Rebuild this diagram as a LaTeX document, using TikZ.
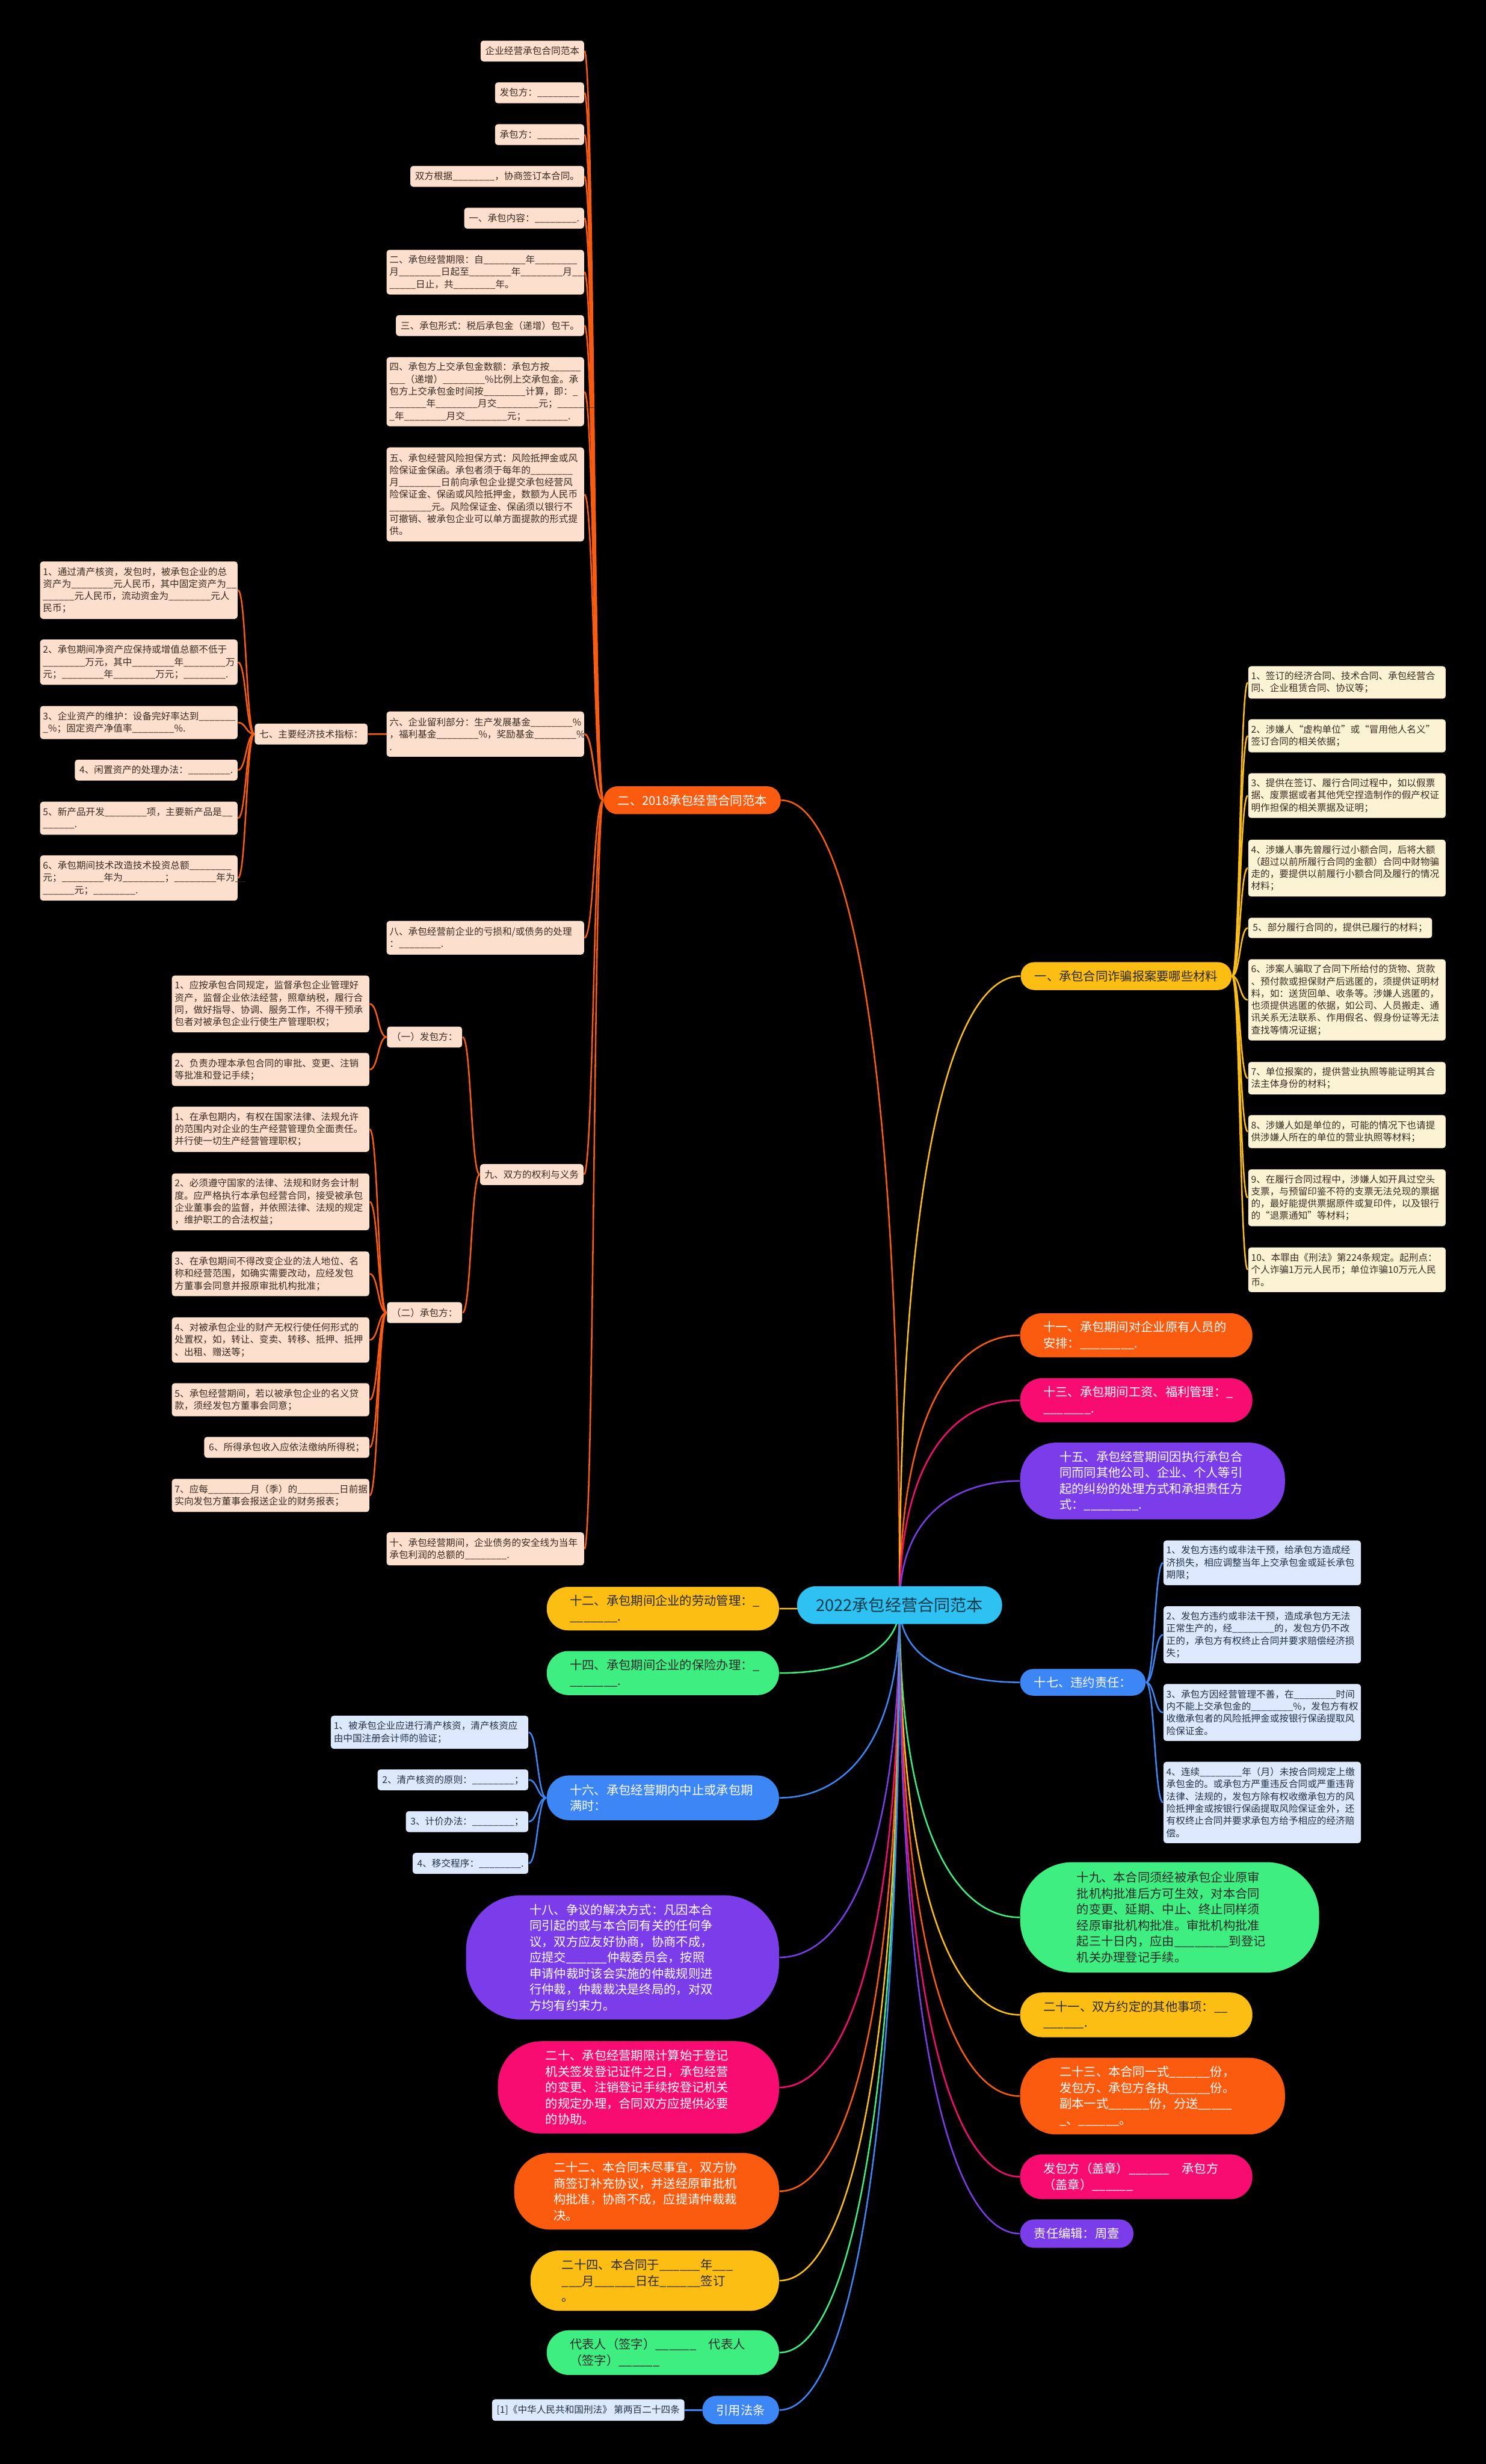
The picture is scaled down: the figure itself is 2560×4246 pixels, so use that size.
\documentclass[tikz,border=0pt]{standalone}
\usepackage{fontspec}
\newfontfamily\zhfont{Noto Sans CJK SC}
\usetikzlibrary{calc}
\pgfdeclarelayer{bg}
\pgfdeclarelayer{edges}
\pgfsetlayers{bg,edges,main}
\definecolor{oC}{HTML}{FA5B0F}
\definecolor{yC}{HTML}{FDBE14}
\definecolor{pC}{HTML}{F80C72}
\definecolor{vC}{HTML}{7B3CE9}
\definecolor{bC}{HTML}{3D86F5}
\definecolor{gC}{HTML}{3FEE81}
\definecolor{rootC}{HTML}{2EC2F2}
\definecolor{peach}{HTML}{FCDFCC}
\definecolor{cream}{HTML}{FCF3D4}
\definecolor{lblue}{HTML}{DCE9FC}
\definecolor{ltext}{HTML}{3B2B22}
\definecolor{btext}{HTML}{22304A}
\definecolor{dtext}{HTML}{2A2A2A}
\definecolor{rtext}{HTML}{163A4A}
\newcommand\fLeaf{\zhfont\fontsize{4.61}{5.98}\selectfont}
\newcommand\fMain{\zhfont\fontsize{5.98}{7.82}\selectfont}
\newcommand\fRoot{\zhfont\fontsize{8}{9.6}\selectfont}
\tikzset{
 lf/.style={rounded corners=0.05cm, inner xsep=0.08cm, inner ysep=0.02cm, font=\fLeaf, text=ltext, align=left},
 wl/.style={text width=3.3cm, inner xsep=0.05cm},
 L/.style={lf,anchor=east},
 R/.style={lf,anchor=west},
 mn/.style={font=\fMain, align=left, inner xsep=0cm, inner ysep=0cm, text width=3.2cm},
 sn/.style={font=\fMain, inner xsep=0.24cm, inner ysep=0cm},
 ln/.style={line width=0.75pt},
 spine/.style={to path={let \p1=(\tikztostart),\p2=(\tikztotarget),\n1={0.5*(\x1+\x2)} in .. controls (\n1,\y1) and (\n1,\y2) .. (\tikztotarget)}},
 rootc/.style={to path={let \p1=(\tikztostart),\p2=(\tikztotarget),\n1={\y1+0.75*(\y2-\y1)},\n2={\x2+0.5*(\x1-\x2)} in .. controls (\x1,\n1) and (\n2,\y2) .. (\tikztotarget)}},
}
\begin{document}
\catcode`\_=12
\begin{tikzpicture}[x=0.01cm,y=-0.01cm]
\useasboundingbox (0,0) rectangle (2560,4246);
\begin{pgfonlayer}{bg}
\fill[black] (0,0) rectangle (2560,4246);
\end{pgfonlayer}

% root
\node[fill=rootC, rounded corners=0.32cm, minimum width=3.53cm, minimum height=0.65cm, font=\fRoot, text=rtext, inner sep=0cm] (root) at (1550,2766) {2022承包经营合同范本};

% ===== branch 二 (orange, top-left)
\node[sn, fill=oC, text=white, anchor=east, minimum height=0.48cm, rounded corners=0.235cm] (b2) at (1346,1379) {二、2018承包经营合同范本};
\node[L, fill=peach, minimum height=0.36cm] (a1) at (1007,88) {企业经营承包合同范本};
\node[L, fill=peach, minimum height=0.36cm] (a2) at (1007,160) {发包方：________};
\node[L, fill=peach, minimum height=0.36cm] (a3) at (1007,232) {承包方：________};
\node[L, fill=peach, minimum height=0.36cm] (a4) at (1007,304) {双方根据________，协商签订本合同。};
\node[L, fill=peach, minimum height=0.36cm] (a5) at (1007,376) {一、承包内容：________.};
\node[L, wl, fill=peach, minimum height=0.77cm] (a6) at (1007,469) {二、承包经营期限：自________年________\\月________日起至________年________月___\\_____日止，共________年。};
\node[L, fill=peach, minimum height=0.36cm] (a7) at (1007,561) {三、承包形式：税后承包金（递增）包干。};
\node[L, wl, fill=peach, minimum height=1.19cm] (a8) at (1007,675) {四、承包方上交承包金数额：承包方按______\\___（递增）________\%比例上交承包金。承\\包方上交承包金时间按________计算，即：_\\_______年________月交________元；_______\\_年________月交________元；________.};
\node[L, wl, fill=peach, minimum height=1.62cm] (a9) at (1007,852) {五、承包经营风险担保方式：风险抵押金或风\\险保证金保函。承包者须于每年的________\\月________日前向承包企业提交承包经营风\\险保证金、保函或风险抵押金，数额为人民币\\________元。风险保证金、保函须以银行不\\可撤销、被承包企业可以单方面提款的形式提\\供。};
\node[L, wl, fill=peach, minimum height=0.78cm] (a10) at (1007,1265) {六、企业留利部分：生产发展基金________\%\\，福利基金________\%，奖励基金________\%\\.};
\node[L, fill=peach, minimum height=0.36cm] (a11) at (634,1265) {七、主要经济技术指标：};
\node[L, wl, fill=peach, minimum height=0.58cm] (a12) at (1007,1616) {八、承包经营前企业的亏损和/或债务的处理\\：________.};
\node[L, fill=peach, minimum height=0.36cm] (a13) at (1006,2024) {九、双方的权利与义务};
\node[L, wl, fill=peach, minimum height=0.57cm] (a14) at (1007,2669) {十、承包经营期间，企业债务的安全线为当年\\承包利润的总额的________.};

% 七 children
\node[L, wl, fill=peach, minimum height=0.99cm] (k1) at (410,1017) {1、通过清产核资，发包时，被承包企业的总\\资产为________元人民币，其中固定资产为__\\______元人民币，流动资金为________元人\\民币；};
\node[L, wl, fill=peach, minimum height=0.78cm] (k2) at (410,1141) {2、承包期间净资产应保持或增值总额不低于\\________万元，其中________年________万\\元；________年________万元；________.};
\node[L, wl, fill=peach, minimum height=0.57cm] (k3) at (410,1245) {3、企业资产的维护：设备完好率达到_______\\_\%；固定资产净值率________\%.};
\node[L, fill=peach, minimum height=0.36cm] (k4) at (410,1327) {4、闲置资产的处理办法：________.};
\node[L, wl, fill=peach, minimum height=0.57cm] (k5) at (410,1410) {5、新产品开发________项，主要新产品是__\\______.};
\node[L, wl, fill=peach, minimum height=0.78cm] (k6) at (410,1513) {6、承包期间技术改造技术投资总额________\\元；________年为________；________年为__\\______元；________.};

% 九 children
\node[L, fill=peach, minimum height=0.36cm] (f0) at (797,1787) {（一）发包方：};
\node[L, wl, fill=peach, minimum height=0.98cm] (f1) at (637,1730) {1、应按承包合同规定，监督承包企业管理好\\资产，监督企业依法经营，照章纳税，履行合\\同，做好指导、协调、服务工作，不得干预承\\包者对被承包企业行使生产管理职权；};
\node[L, wl, fill=peach, minimum height=0.57cm] (f2) at (637,1843) {2、负责办理本承包合同的审批、变更、注销\\等批准和登记手续；};
\node[L, fill=peach, minimum height=0.36cm] (g0) at (797,2262) {（二）承包方：};
\node[L, wl, fill=peach, minimum height=0.78cm] (g1) at (637,1946) {1、在承包期内，有权在国家法律、法规允许\\的范围内对企业的生产经营管理负全面责任。\\并行使一切生产经营管理职权；};
\node[L, wl, fill=peach, minimum height=0.98cm] (g2) at (637,2071) {2、必须遵守国家的法律、法规和财务会计制\\度。应严格执行本承包经营合同，接受被承包\\企业董事会的监督，并依照法律、法规的规定\\，维护职工的合法权益；};
\node[L, wl, fill=peach, minimum height=0.77cm] (g3) at (637,2195) {3、在承包期间不得改变企业的法人地位、名\\称和经营范围，如确实需要改动，应经发包\\方董事会同意并报原审批机构批准；};
\node[L, wl, fill=peach, minimum height=0.78cm] (g4) at (637,2309) {4、对被承包企业的财产无权行使任何形式的\\处置权，如，转让、变卖、转移、抵押、抵押\\、出租、赠送等；};
\node[L, wl, fill=peach, minimum height=0.57cm] (g5) at (637,2412) {5、承包经营期间，若以被承包企业的名义贷\\款，须经发包方董事会同意；};
\node[L, fill=peach, minimum height=0.36cm] (g6) at (637,2494) {6、所得承包收入应依法缴纳所得税；};
\node[L, wl, fill=peach, minimum height=0.57cm] (g7) at (637,2577) {7、应每________月（季）的________日前据\\实向发包方董事会报送企业的财务报表；};

% ===== branch 一 (yellow, right)
\node[sn, fill=yC, text=dtext, anchor=west, minimum height=0.48cm, rounded corners=0.235cm] (y1) at (1758,1682) {一、承包合同诈骗报案要哪些材料};
\node[R, wl, fill=cream, minimum height=0.56cm] (r1) at (2150,1176) {1、签订的经济合同、技术合同、承包经营合\\同、企业租赁合同、协议等；};
\node[R, wl, fill=cream, minimum height=0.57cm] (r2) at (2150,1268) {2、涉嫌人“虚构单位”或“冒用他人名义”\\签订合同的相关依据；};
\node[R, wl, fill=cream, minimum height=0.77cm] (r3) at (2150,1371) {3、提供在签订、履行合同过程中，如以假票\\据、废票据或者其他凭空捏造制作的假产权证\\明作担保的相关票据及证明；};
\node[R, wl, fill=cream, minimum height=0.98cm] (r4) at (2150,1496) {4、涉嫌人事先曾履行过小额合同，后将大额\\（超过以前所履行合同的金额）合同中财物骗\\走的，要提供以前履行小额合同及履行的情况\\材料；};
\node[R, fill=cream, minimum height=0.35cm] (r5) at (2150,1599) {5、部分履行合同的，提供已履行的材料；};
\node[R, wl, fill=cream, minimum height=1.40cm] (r6) at (2150,1723) {6、涉案人骗取了合同下所给付的货物、货款\\、预付款或担保财产后逃匿的，须提供证明材\\料，如：送货回单、收条等。涉嫌人逃匿的，\\也须提供逃匿的依据，如公司、人员搬走、通\\讯关系无法联系、作用假名、假身份证等无法\\查找等情况证据；};
\node[R, wl, fill=cream, minimum height=0.56cm] (r7) at (2150,1858) {7、单位报案的，提供营业执照等能证明其合\\法主体身份的材料；};
\node[R, wl, fill=cream, minimum height=0.57cm] (r8) at (2150,1950) {8、涉嫌人如是单位的，可能的情况下也请提\\供涉嫌人所在的单位的营业执照等材料；};
\node[R, wl, fill=cream, minimum height=0.98cm] (r9) at (2150,2064) {9、在履行合同过程中，涉嫌人如开具过空头\\支票，与预留印鉴不符的支票无法兑现的票据\\的，最好能提供票据原件或复印件，以及银行\\的“退票通知”等材料；};
\node[R, wl, fill=cream, minimum height=0.77cm] (r10) at (2150,2188) {10、本罪由《刑法》第224条规定。起刑点：\\个人诈骗1万元人民币；单位诈骗10万元人民\\币。};

% ===== right main branches
\node[mn, fill=oC, text=white, anchor=west, minimum width=4.0cm, minimum height=0.76cm, rounded corners=0.375cm] (m11) at (1757,2301) {十一、承包期间对企业原有人员的\\安排：________.};
\node[mn, fill=pC, text=white, anchor=west, minimum width=4.0cm, minimum height=0.76cm, rounded corners=0.375cm] (m13) at (1757,2413) {十三、承包期间工资、福利管理：_\\_______.};
\node[mn, fill=vC, text=white, anchor=west, minimum width=4.56cm, minimum height=1.32cm, rounded corners=0.62cm] (m15) at (1757,2552) {十五、承包经营期间因执行承包合\\同而同其他公司、企业、个人等引\\起的纠纷的处理方式和承担责任方\\式：________.};
\node[sn, fill=bC, text=white, anchor=west, minimum height=0.46cm, rounded corners=0.225cm] (m17) at (1757,2899) {十七、违约责任：};
\node[R, wl, fill=lblue, text=btext, minimum height=0.77cm] (s1) at (2004,2693) {1、发包方违约或非法干预，给承包方造成经\\济损失，相应调整当年上交承包金或延长承包\\期限；};
\node[R, wl, fill=lblue, text=btext, minimum height=0.98cm] (s2) at (2004,2817) {2、发包方违约或非法干预，造成承包方无法\\正常生产的，经________的，发包方仍不改\\正的，承包方有权终止合同并要求赔偿经济损\\失；};
\node[R, wl, fill=lblue, text=btext, minimum height=0.98cm] (s3) at (2004,2951) {3、承包方因经营管理不善，在________时间\\内不能上交承包金的________\%，发包方有权\\收缴承包者的风险抵押金或按银行保函提取风\\险保证金。};
\node[R, wl, fill=lblue, text=btext, minimum height=1.40cm] (s4) at (2004,3106) {4、连续________年（月）未按合同规定上缴\\承包金的。或承包方严重违反合同或严重违背\\法律、法规的，发包方除有权收缴承包方的风\\险抵押金或按银行保函提取风险保证金外，还\\有权终止合同并要求承包方给予相应的经济赔\\偿。};
\node[mn, fill=gC, text=dtext, anchor=west, minimum width=5.15cm, minimum height=1.90cm, rounded corners=0.9cm] (m19) at (1757,3304) {十九、本合同须经被承包企业原审\\批机构批准后方可生效，对本合同\\的变更、延期、中止、终止同样须\\经原审批机构批准。审批机构批准\\起三十日内，应由________到登记\\机关办理登记手续。};
\node[mn, fill=yC, text=dtext, anchor=west, minimum width=4.0cm, minimum height=0.77cm, rounded corners=0.38cm] (m21) at (1757,3472) {二十一、双方约定的其他事项：__\\______.};
\node[mn, fill=oC, text=white, anchor=west, minimum width=4.56cm, minimum height=1.32cm, rounded corners=0.62cm] (m23) at (1757,3612) {二十三、本合同一式______份，\\发包方、承包方各执______份。\\副本一式______份，分送_____\\_、______。};
\node[mn, fill=pC, text=white, anchor=west, minimum width=4.0cm, minimum height=0.77cm, rounded corners=0.38cm] (mfb) at (1757,3751) {发包方（盖章）______　承包方\\（盖章）______};
\node[sn, fill=vC, text=white, anchor=west, minimum height=0.49cm, rounded corners=0.24cm] (mzr) at (1757,3849) {责任编辑：周壹};

% ===== left main branches
\node[mn, fill=yC, text=dtext, anchor=east, minimum width=4.0cm, minimum height=0.75cm, rounded corners=0.37cm] (m12) at (1343,2772) {十二、承包期间企业的劳动管理：_\\_______.};
\node[mn, fill=gC, text=dtext, anchor=east, minimum width=4.0cm, minimum height=0.76cm, rounded corners=0.375cm] (m14) at (1343,2883) {十四、承包期间企业的保险办理：_\\_______.};
\node[mn, fill=bC, text=white, anchor=east, minimum width=4.0cm, minimum height=0.77cm, rounded corners=0.38cm] (m16) at (1343,3098) {十六、承包经营期内中止或承包期\\满时：};
\node[L, wl, fill=lblue, text=btext, minimum height=0.57cm] (t1) at (911,2985) {1、被承包企业应进行清产核资，清产核资应\\由中国注册会计师的验证；};
\node[L, fill=lblue, text=btext, minimum height=0.36cm] (t2) at (911,3067) {2、清产核资的原则：________；};
\node[L, fill=lblue, text=btext, minimum height=0.36cm] (t3) at (911,3139) {3、计价办法：________；};
\node[L, fill=lblue, text=btext, minimum height=0.36cm] (t4) at (911,3211) {4、移交程序：________.};
\node[mn, fill=vC, text=white, anchor=east, minimum width=5.39cm, minimum height=2.14cm, rounded corners=0.95cm] (m18) at (1343,3373) {十八、争议的解决方式：凡因本合\\同引起的或与本合同有关的任何争\\议，双方应友好协商，协商不成，\\应提交______仲裁委员会，按照\\申请仲裁时该会实施的仲裁规则进\\行仲裁，仲裁裁决是终局的，对双\\方均有约束力。};
\node[mn, fill=pC, text=white, anchor=east, minimum width=4.84cm, minimum height=1.59cm, rounded corners=0.75cm] (m20) at (1343,3597) {二十、承包经营期限计算始于登记\\机关签发登记证件之日，承包经营\\的变更、注销登记手续按登记机关\\的规定办理，合同双方应提供必要\\的协助。};
\node[mn, fill=oC, text=white, anchor=east, minimum width=4.56cm, minimum height=1.32cm, rounded corners=0.62cm] (m22) at (1343,3776) {二十二、本合同未尽事宜，双方协\\商签订补充协议，并送经原审批机\\构批准，协商不成，应提请仲裁裁\\决。};
\node[mn, fill=yC, text=dtext, anchor=east, minimum width=4.28cm, minimum height=1.04cm, rounded corners=0.5cm] (m24) at (1343,3930) {二十四、本合同于______年___\\___月______日在______签订\\。};
\node[mn, fill=gC, text=dtext, anchor=east, minimum width=4.0cm, minimum height=0.77cm, rounded corners=0.38cm] (mdb) at (1343,4054) {代表人（签字）______　代表人\\（签字）______};
\node[sn, fill=bC, text=white, anchor=east, minimum height=0.49cm, rounded corners=0.24cm] (myy) at (1343,4153) {引用法条};
\node[L, fill=lblue, text=btext, minimum height=0.37cm] (ref1) at (1180,4153) {[1]《中华人民共和国刑法》 第两百二十四条};

% ===== edges
\begin{pgfonlayer}{edges}
% root to branches
\draw[ln,oC] (root.center) to[rootc] (b2.east);
\draw[ln,yC] (root.center) to[rootc] (y1.west);
\draw[ln,oC] (root.center) to[rootc] (m11.west);
\draw[ln,pC] (root.center) to[rootc] (m13.west);
\draw[ln,vC] (root.center) to[rootc] (m15.west);
\draw[ln,bC] (root.center) to[rootc] (m17.west);
\draw[ln,gC] (root.center) to[rootc] (m19.west);
\draw[ln,yC] (root.center) to[rootc] (m21.west);
\draw[ln,oC] (root.center) to[rootc] (m23.west);
\draw[ln,pC] (root.center) to[rootc] (mfb.west);
\draw[ln,vC] (root.center) to[rootc] (mzr.west);
\draw[ln,yC] (root.center) to[rootc] (m12.east);
\draw[ln,gC] (root.center) to[rootc] (m14.east);
\draw[ln,bC] (root.center) to[rootc] (m16.east);
\draw[ln,vC] (root.center) to[rootc] (m18.east);
\draw[ln,pC] (root.center) to[rootc] (m20.east);
\draw[ln,oC] (root.center) to[rootc] (m22.east);
\draw[ln,yC] (root.center) to[rootc] (m24.east);
\draw[ln,gC] (root.center) to[rootc] (mdb.east);
\draw[ln,bC] (root.center) to[rootc] (myy.east);
% branch 二
\foreach \nd in {a1,a2,a3,a4,a5,a6,a7,a8,a9,a10,a12,a13,a14}
  \draw[ln,oC] (b2.west) to[spine] (\nd.east);
\draw[ln,oC] (a11.east) -- (a11.east -| a10.east) to[spine] (b2.west);
\foreach \nd in {k1,k2,k3,k4,k5,k6}
  \draw[ln,oC] (a11.west) to[spine] (\nd.east);
\draw[ln,oC] (a13.west) to[spine] (f0.east);
\draw[ln,oC] (a13.west) to[spine] (g0.east);
\foreach \nd in {f1,f2}
  \draw[ln,oC] (f0.west) to[spine] (\nd.east);
\foreach \nd in {g1,g2,g3,g4,g5,g6,g7}
  \draw[ln,oC] (g0.west) to[spine] (\nd.east);
% branch 一
\foreach \nd in {r1,r2,r3,r4,r5,r6,r7,r8,r9,r10}
  \draw[ln,yC] (y1.east) to[spine] (\nd.west);
% 十七
\foreach \nd in {s1,s2,s3,s4}
  \draw[ln,bC] (m17.east) to[spine] (\nd.west);
% 十六
\foreach \nd in {t1,t2,t3,t4}
  \draw[ln,bC] (m16.west) to[spine] (\nd.east);
\draw[ln,bC] (myy.west) -- (ref1.east);
\end{pgfonlayer}
\end{tikzpicture}
\end{document}
